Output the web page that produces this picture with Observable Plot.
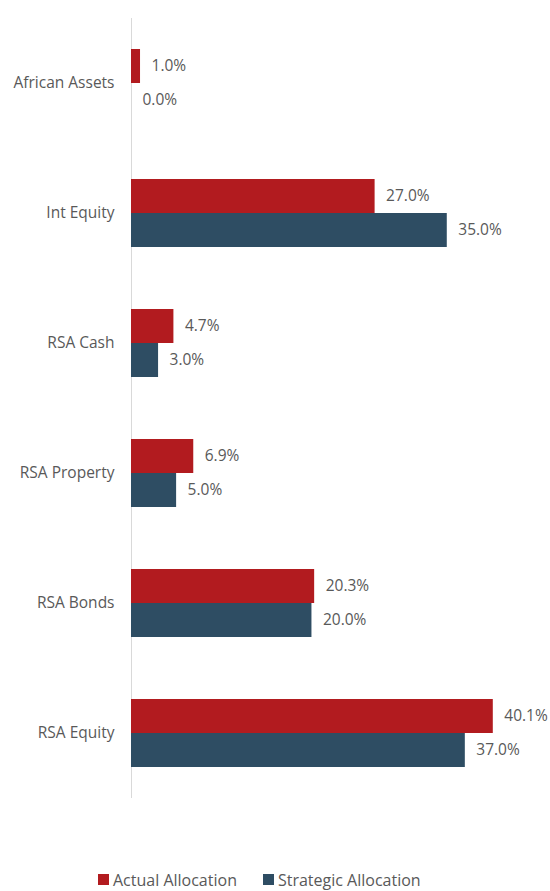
<!DOCTYPE html>
<html>
<head>
<meta charset="utf-8">
<script src="https://cdn.jsdelivr.net/npm/d3@7"></script>
<script src="https://cdn.jsdelivr.net/npm/@observablehq/plot@0.6"></script>
<style>
  body { margin: 0; background: #fff; font-family: "Open Sans", sans-serif; }
  #chart svg { display: block; }
  .legend { display: flex; align-items: center; padding-left: 98px; height: 31px; padding-top: 4px; font-size: 16px; line-height: 20px; color: #595959; }
  .legend .item { display: flex; align-items: center; margin-right: 26px; }
  .legend .sw { width: 11px; height: 11px; margin-right: 4px; display: inline-block; }
</style>
</head>
<body>
<div id="chart"></div>
<div class="legend" id="legend"></div>
<script>
const categories = ["African Assets", "Int Equity", "RSA Cash", "RSA Property", "RSA Bonds", "RSA Equity"];
const series = ["Actual Allocation", "Strategic Allocation"];
const actual = [1.0, 27.0, 4.7, 6.9, 20.3, 40.1];
const strategic = [0.0, 35.0, 3.0, 5.0, 20.0, 37.0];
const colors = ["#B21B1F", "#2E4D63"];

const data = [];
categories.forEach((c, i) => {
  data.push({category: c, series: series[0], value: actual[i]});
  data.push({category: c, series: series[1], value: strategic[i]});
});

const chart = Plot.plot({
  width: 550,
  height: 860,
  marginLeft: 131,
  marginRight: 13,
  marginTop: 15,
  marginBottom: 60,
  style: {fontFamily: "'Open Sans', sans-serif", fontSize: "15.5px", color: "#595959"},
  x: {domain: [0, 45], axis: null},
  y: {domain: series, axis: null, paddingInner: 0, paddingOuter: 0.9},
  fy: {domain: categories, padding: 0, label: null, tickSize: 0, tickPadding: 17, anchor: "left"},
  color: {domain: series, range: colors},
  marks: [
    Plot.ruleX([0], {stroke: "#d9d9d9", strokeWidth: 1}),
    Plot.barX(data, {x: "value", y: "series", fy: "category", fill: "series"}),
    Plot.text(data, {x: "value", y: "series", fy: "category", text: d => d.value.toFixed(1) + "%", textAnchor: "start", dx: 11, fill: "#595959", fontSize: 15.5})
  ]
});
document.getElementById("chart").appendChild(chart);

const legend = document.getElementById("legend");
series.forEach((s, i) => {
  const item = document.createElement("div");
  item.className = "item";
  item.innerHTML = `<span class="sw" style="background:${colors[i]}"></span><span>${s}</span>`;
  legend.appendChild(item);
});
</script>
</body>
</html>
